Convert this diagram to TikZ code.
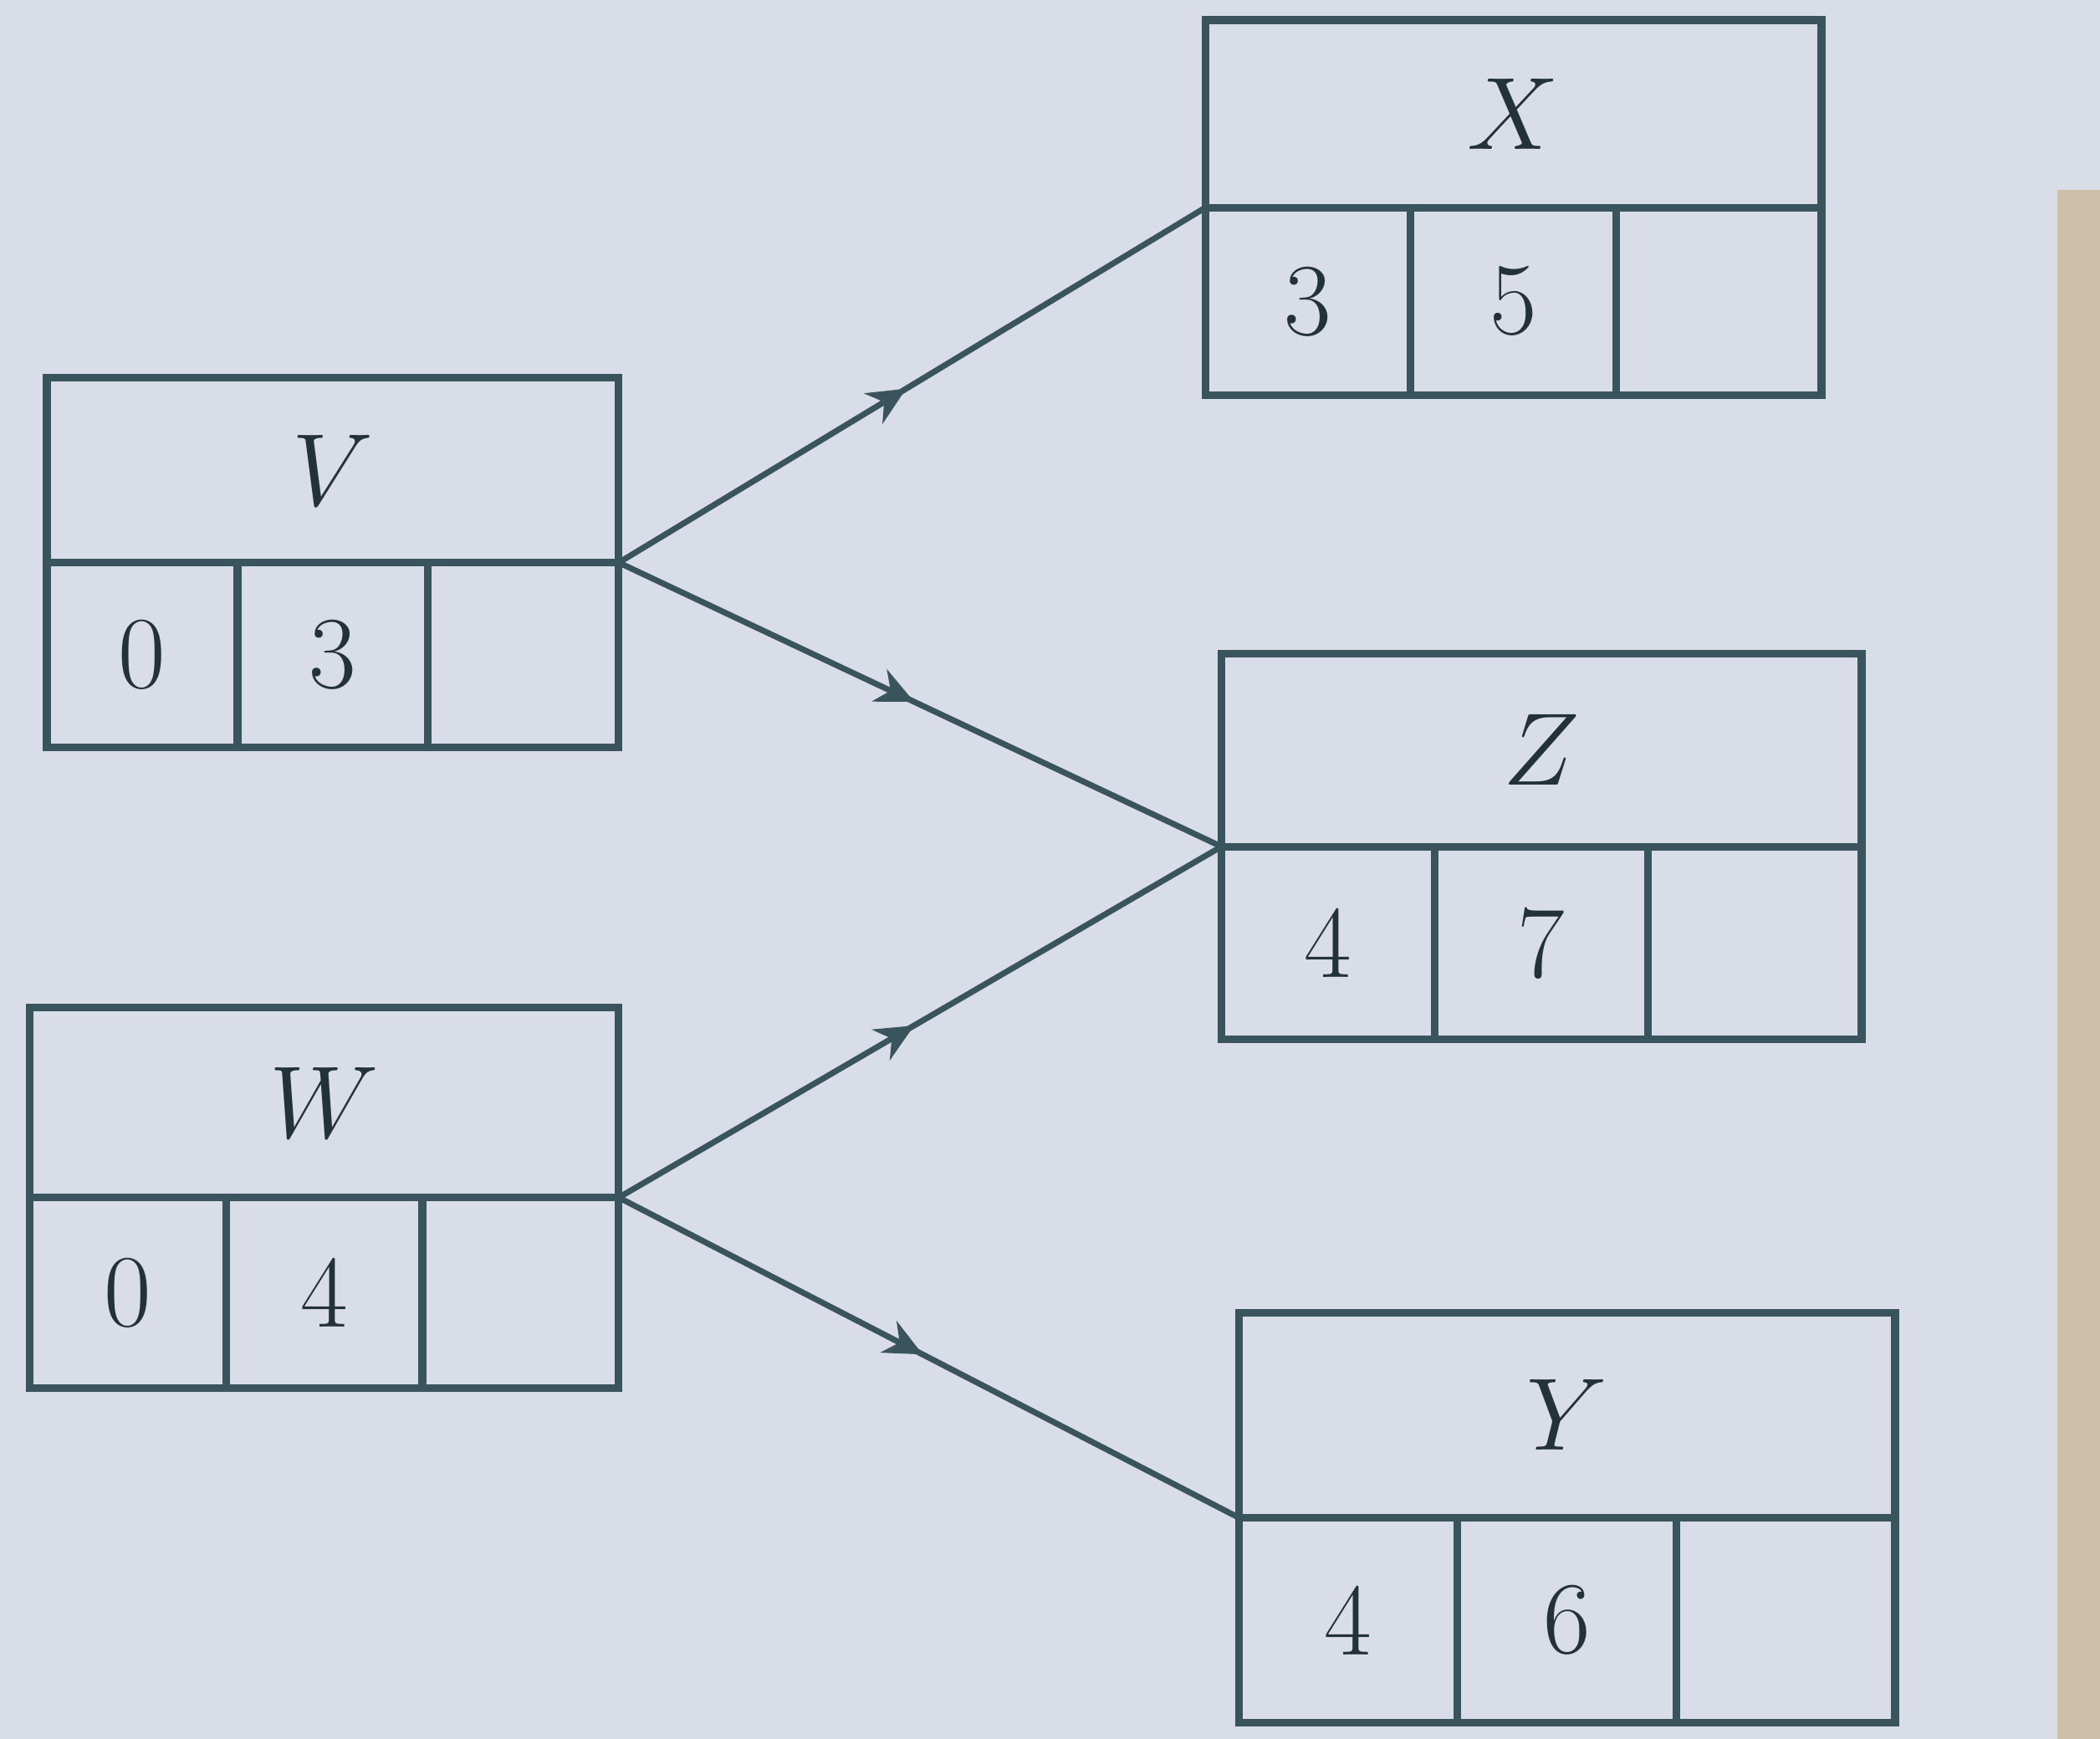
\RequirePackage{fix-cm}
\documentclass[tikz,border=0pt]{standalone}
\usetikzlibrary{arrows.meta,decorations.markings}

\definecolor{paper}{RGB}{216,221,231}
\definecolor{edge}{RGB}{206,192,168}
\definecolor{ink}{RGB}{58,84,94}

\tikzstyle{boxline} = [ink,line width=2.6pt]
\tikzstyle{flow} = [ink,line width=2pt,postaction={decorate},
  decoration={markings,mark=at position 0.49 with {\arrow{Stealth[length=13pt,width=12pt]}}}]
\tikzstyle{txt} = [text=ink!60!black,font=\fontsize{35}{40}\selectfont]

% box: name, left, top, width, half height, title, first cell, second cell
\newcommand{\recbox}[8]{%
\begin{scope}[shift={(#2,#3)}]
\draw [boxline] (0,0) rectangle (#4,2*#5);
\draw [boxline] (0,#5) -- (#4,#5);
\draw [boxline] (#4/3,#5) -- (#4/3,2*#5);
\draw [boxline] (2*#4/3,#5) -- (2*#4/3,2*#5);
\node [txt] (#1) at (#4/2,#5/2) {$#6$};
\node [txt] (#1-a) at (#4/6,1.5*#5) {#7};
\node [txt] (#1-b) at (#4/2,1.5*#5) {#8};
\coordinate (#1-in) at (0,#5);
\coordinate (#1-out) at (#4,#5);
\end{scope}}

\begin{document}
\begin{tikzpicture}[x=0.016cm,y=-0.016cm]

% background
\fill [paper] (0,0) rectangle (1568,1298);
\fill [edge] (1536,142) rectangle (1568,1298);
\useasboundingbox (0,0) rectangle (1568,1298);

% left boxes
\recbox{V}{35}{282}{427}{138}{V}{0}{3}
\recbox{W}{22}{752}{440}{142}{W}{0}{4}

% right boxes
\recbox{X}{900}{15}{460}{140}{X}{3}{5}
\recbox{Z}{912}{488}{478}{144}{Z}{4}{7}
\recbox{Y}{925}{980}{490}{153}{Y}{4}{6}

% arrows
\draw [flow] (V-out) -- (X-in);
\draw [flow] (V-out) -- (Z-in);
\draw [flow] (W-out) -- (Z-in);
\draw [flow] (W-out) -- (Y-in);

\end{tikzpicture}
\end{document}
